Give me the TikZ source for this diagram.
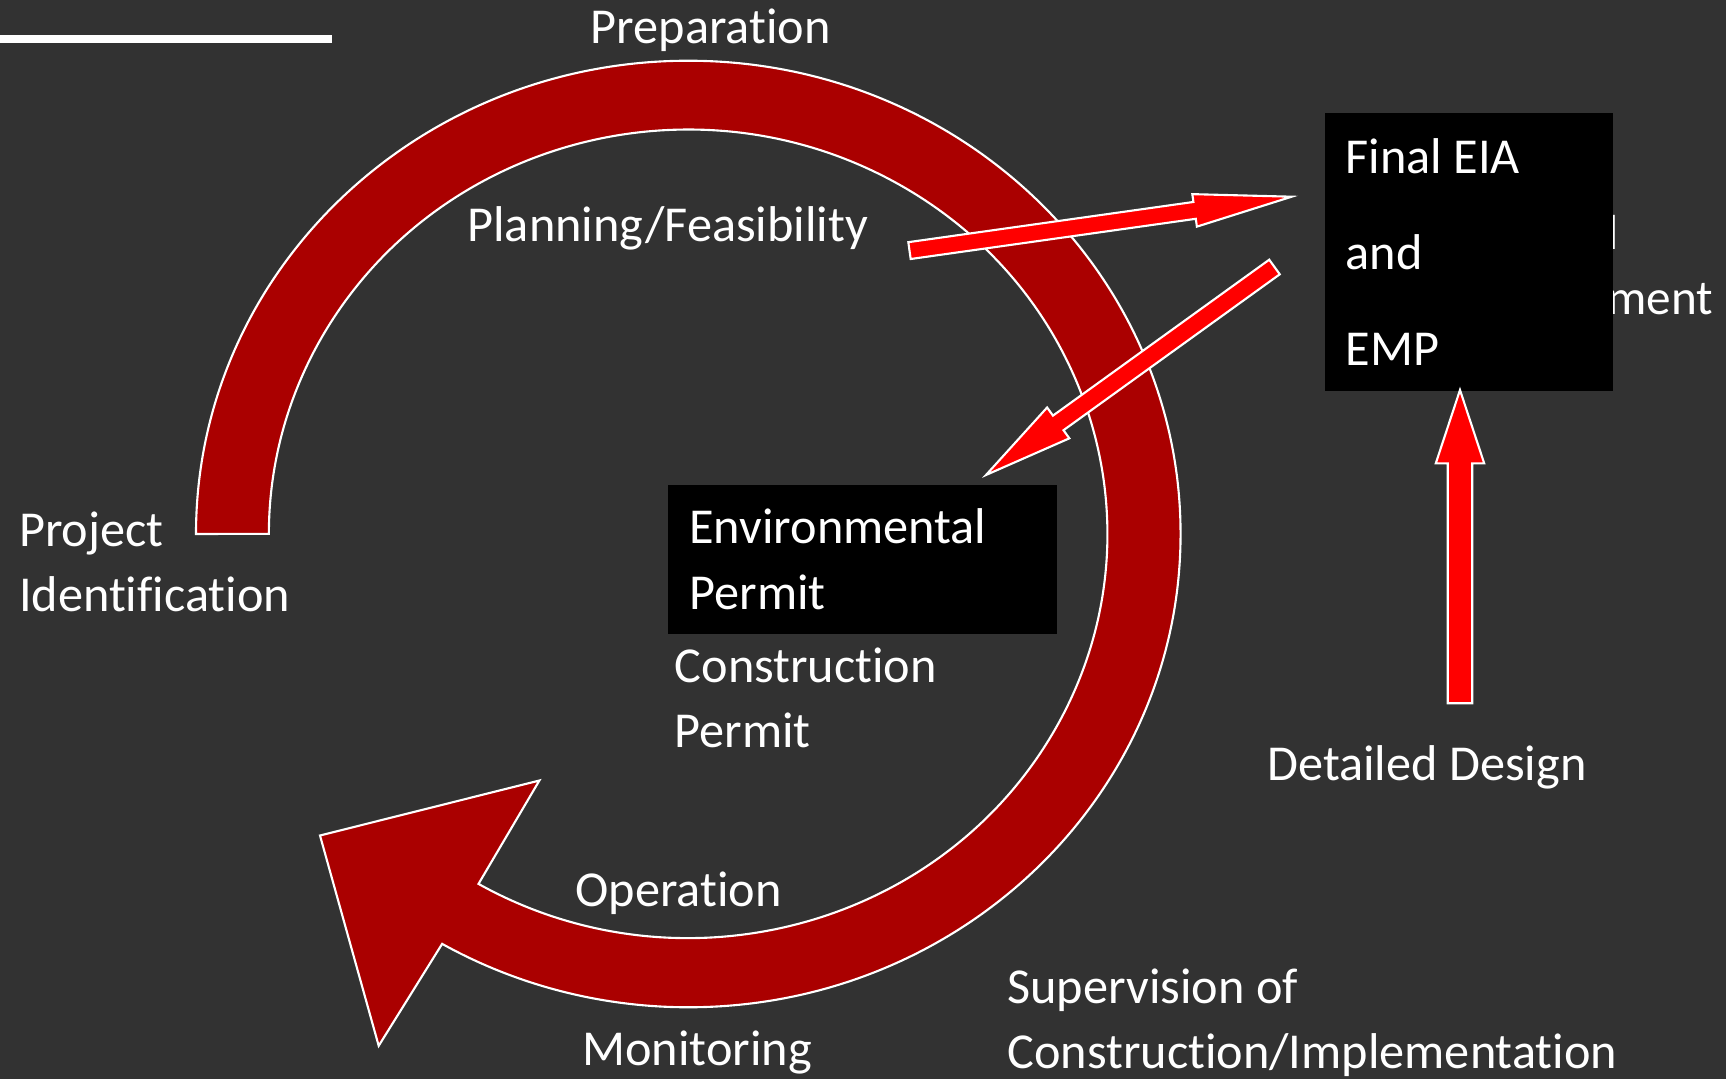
\documentclass[tikz,border=0pt]{standalone}
\usepackage{fontspec}
\setmainfont{Carlito}[Ligatures={NoCommon,NoRequired,NoContextual}]
\usetikzlibrary{calc}

\definecolor{slide}{HTML}{323232}
\definecolor{cycle}{HTML}{AA0000}
\definecolor{hot}{HTML}{FF0000}

\newcommand{\lbl}{\fontsize{14.3}{18.5}\selectfont}

\tikzset{
  ring/.style={fill=cycle,draw=white,line width=0.6pt},
  blockarrow/.style={fill=hot,draw=white,line width=0.6pt},
  darkbox/.style={fill=black,inner xsep=0.21cm,inner ysep=0pt,anchor=north west,align=flush left},
  label/.style={anchor=base west,align=left,inner xsep=0pt}
}
\tikzstyle{every node}=[color=white,font=\lbl]

% tail, tip, half shaft, half head, head length
\newcommand{\blockarrow}[5]{%
  \coordinate (hb) at ($(#2)!#5!(#1)$);
  \draw[blockarrow] ($(#1)!#3!90:(#2)$) -- ($(hb)!#3!90:(#2)$) -- ($(hb)!#4!90:(#2)$) -- (#2)
    -- ($(hb)!#4!-90:(#2)$) -- ($(hb)!#3!-90:(#2)$) -- ($(#1)!#3!-90:(#2)$) -- cycle;
}

\begin{document}
\begin{tikzpicture}[x=0.01cm,y=-0.01cm]
    \useasboundingbox (0,0) rectangle (1726,1079);
    \fill[slide] (0,0) rectangle (1726,1079);
    \fill[white] (0,35) rectangle (332,43.3);

    % the project cycle
    \draw[ring] (196,534) arc[start angle=180, end angle=-120, x radius=4.92cm, y radius=4.73cm]
      -- (378.7,1045.8) -- (320,835.5) -- (539.4,780.5) -- (478.5,883.9)
      arc[start angle=-120, end angle=180, x radius=4.19cm, y radius=4.04cm] -- cycle;

    % labels (two-line ones sit on their last baseline)
    \node[label] (prep) at (590,43.3) {Preparation};
    \node[label] (plan) at (466.7,241.7) {Planning/Feasibility};
    \node[label] (ident) at (18.3,611.7) {Project\\Identification};
    \node[label] (cpermit) at (674,747.3) {Construction\\Permit};
    \node[label] (oper) at (575,906.7) {Operation};
    \node[label] (monit) at (581.7,1065) {Monitoring};
    \node[label] (superv) at (1006.7,1068.3) {Supervision of\\Construction/Implementation};
    \node[label] (design) at (1266.7,780) {Detailed Design};
    \node[label,font=\fontsize{14}{18.5}\selectfont] (eiatitle) at (1327,315) {Environmental\\Impact Assessment};

    % boxes
    \node[darkbox,text width=2.46cm,minimum height=2.78cm,font=\fontsize{14.3}{27.3}\selectfont]
      (eia) at (1324,112) {Final EIA\\and\\EMP};
    \node[darkbox,text width=3.46cm,minimum height=1.49cm] (epermit) at (667.7,484) {Environmental\\Permit};

    % red arrows
    \coordinate (plan tail) at (909.5,250.6);
    \coordinate (eia in) at (1291.7,196.7);
    \coordinate (eia out) at (1274.5,267);
    \coordinate (epermit in) at (986,475);
    \coordinate (design tail) at (1460,703.3);
    \coordinate (eia bottom) at (1460,390);
    \blockarrow{plan tail}{eia in}{0.085cm}{0.164cm}{0.98cm}
    \blockarrow{eia out}{epermit in}{0.09cm}{0.19cm}{0.89cm}
    \blockarrow{design tail}{eia bottom}{0.122cm}{0.242cm}{0.733cm}
\end{tikzpicture}
\end{document}
